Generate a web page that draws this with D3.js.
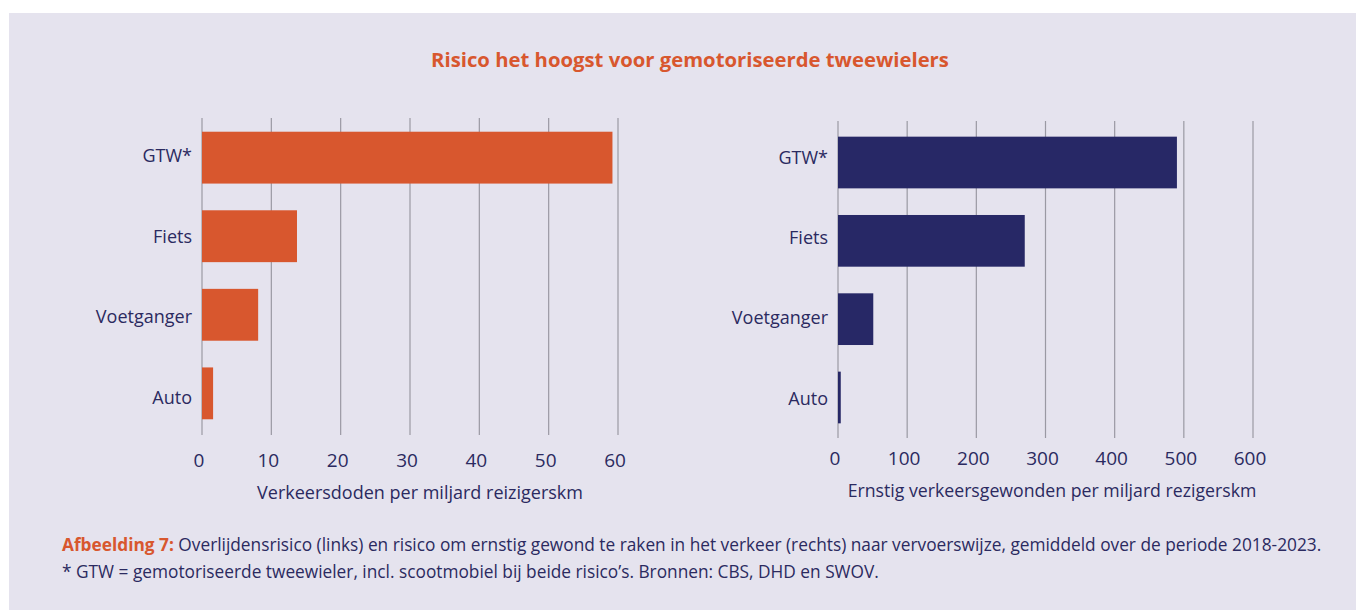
<!DOCTYPE html>
<html lang="nl">
<head>
<meta charset="UTF-8">
<title>Risico het hoogst voor gemotoriseerde tweewielers</title>
<script src="https://d3js.org/d3.v7.min.js"></script>
<style>
  body { margin:0; background:#fff; }
  svg { display:block; font-family:"Open Sans", "Noto Sans", sans-serif; }
</style>
</head>
<body>
<div id="chart"></div>
<script>
// data
const categories = ["GTW*", "Fiets", "Voetganger", "Auto"];
const dodenValues = [59.2, 13.7, 8.1, 1.6];
const gewondenValues = [490, 270, 51, 4];
const dodenTicks = [0, 10, 20, 30, 40, 50, 60];
const gewondenTicks = [0, 100, 200, 300, 400, 500, 600];

const W = 1358, H = 610;
const orange = "#d8572e", navy = "#272866", ink = "#2b2a60";

const svg = d3.select("#chart").append("svg")
    .attr("width", W).attr("height", H);

svg.append("rect").attr("x", 9).attr("y", 13).attr("width", W - 11).attr("height", H - 13)
    .attr("fill", "#e5e3ee");

svg.append("text").attr("x", 690).attr("y", 67).attr("text-anchor", "middle")
    .attr("font-size", 20.3).attr("font-weight", 700).attr("fill", orange)
    .text("Risico het hoogst voor gemotoriseerde tweewielers");

// one panel
function panel(opts) {
    const x = d3.scaleLinear().domain([opts.ticks[0], opts.ticks[opts.ticks.length - 1]])
        .range([opts.x0, opts.x1]);
    const y = d3.scaleBand().domain(categories).range([opts.yTop, opts.yBot])
        .paddingInner(0.34).paddingOuter(0.2);
    const g = svg.append("g");

    g.selectAll(".grid").data(opts.ticks).enter().append("line")
        .attr("x1", d => x(d)).attr("x2", d => x(d))
        .attr("y1", opts.gTop).attr("y2", opts.gBot)
        .attr("stroke", "#9a99a3").attr("stroke-width", 1.2);

    g.selectAll(".bar").data(opts.values).enter().append("rect")
        .attr("x", x(0)).attr("y", (d, i) => y(categories[i]))
        .attr("width", d => x(d) - x(0)).attr("height", y.bandwidth())
        .attr("fill", opts.color);

    // labels sit slightly off the bar centres in the original
    g.selectAll(".cat").data(categories).enter().append("text")
        .attr("x", x(0) - 10).attr("y", (d, i) => y(d) + y.bandwidth() / 2 + opts.labOff + i * 2)
        .attr("dy", "0.35em").attr("text-anchor", "end")
        .attr("font-size", 18).attr("fill", ink).text(d => d);

    g.selectAll(".tick").data(opts.ticks).enter().append("text")
        .attr("x", d => x(d) - 3).attr("y", opts.tickY)
        .attr("text-anchor", "middle").attr("font-size", 19).attr("fill", ink)
        .text(d => d);

    g.append("text").attr("x", opts.titleX).attr("y", opts.tickY + 32)
        .attr("text-anchor", "middle").attr("font-size", opts.titleSize).attr("fill", ink)
        .text(opts.title);
}

panel({ values: dodenValues, ticks: dodenTicks, color: orange,
    x0: 202, x1: 618, yTop: 116, yBot: 435, gTop: 118, gBot: 435,
    tickY: 467, titleX: 420, titleSize: 18, labOff: -2,
    title: "Verkeersdoden per miljard reizigerskm" });

panel({ values: gewondenValues, ticks: gewondenTicks, color: navy,
    x0: 838, x1: 1253, yTop: 121, yBot: 439, gTop: 121, gBot: 438,
    tickY: 465, titleX: 1052, titleSize: 17.7, labOff: -5,
    title: "Ernstig verkeersgewonden per miljard rezigerskm" });

// caption
const cap = svg.append("text").attr("x", 62).attr("y", 551).attr("font-size", 17.3).attr("fill", ink);
cap.append("tspan").attr("font-weight", 700).attr("fill", orange).text("Afbeelding 7:");
cap.append("tspan").text(" Overlijdensrisico (links) en risico om ernstig gewond te raken in het verkeer (rechts) naar vervoerswijze, gemiddeld over de periode 2018-2023.");
svg.append("text").attr("x", 62).attr("y", 578).attr("font-size", 17.3).attr("fill", ink)
    .text("* GTW = gemotoriseerde tweewieler, incl. scootmobiel bij beide risico’s. Bronnen: CBS, DHD en SWOV.");
</script>
</body>
</html>
